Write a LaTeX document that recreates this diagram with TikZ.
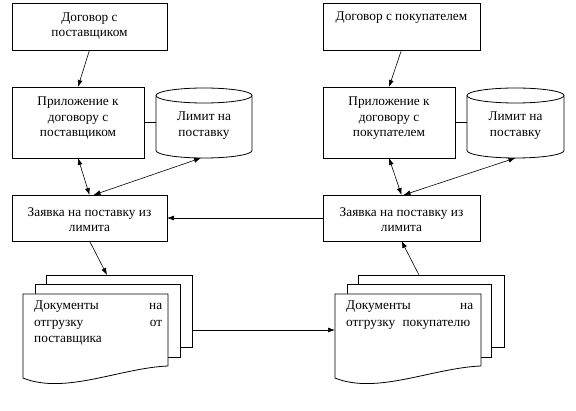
\documentclass[tikz,border=0pt]{standalone}
\usepackage{fontspec}
\setmainfont{Liberation Serif}
\usetikzlibrary{arrows.meta}
\newcommand\myfs{\fontsize{13.3}{15.5}\selectfont}
\newcommand\mydocfs{\fontsize{13.3}{16.2}\selectfont}
\begin{document}
\begin{tikzpicture}[x=1pt,y=-1pt,
  box/.style={draw, line width=0.8pt, fill=white, rectangle, inner sep=0pt, outer sep=0pt, anchor=north west},
  area/.style={rectangle, inner sep=0pt, outer sep=0pt, anchor=north west},
  txt/.style={inner sep=0pt, anchor=north, align=center, font=\myfs},
  doctxt/.style={inner sep=0pt, anchor=north west, align=left, font=\mydocfs},
  sheet/.style={line width=0.8pt, fill=white},
  tip/.style={Latex[length=7pt,width=5pt]},
  arr/.style={-{Latex[length=7pt,width=5pt]}, line width=0.6pt},
  darr/.style={{Latex[length=7pt,width=5pt]}-{Latex[length=7pt,width=5pt]}, line width=0.6pt},
  plain/.style={line width=0.8pt},
]
\useasboundingbox (0,0) rectangle (576,411);

% top boxes
\node[box, minimum width=155, minimum height=47] (d1) at (12,3) {};
\node[txt] (d1t) at ([yshift=-9.5]d1.north) {Договор с\\поставщиком};
\node[box, minimum width=157, minimum height=47] (d2) at (323,3) {};
\node[txt] (d2t) at ([yshift=-9]d2.north) {Договор с покупателем};

% appendix boxes
\node[box, minimum width=132, minimum height=71] (p1) at (12,87) {};
\node[txt] (p1t) at ([yshift=-10]p1.north) {Приложение к\\договору с\\поставщиком};
\node[box, minimum width=132, minimum height=71] (p2) at (323,87) {};
\node[txt] (p2t) at ([yshift=-10]p2.north) {Приложение к\\договору с\\покупателем};

% cylinders
\node[area, minimum width=96, minimum height=70] (c1) at (156,88) {};
\draw[plain, fill=white] (156,95.5) -- (156,150.5)
  arc[start angle=180, end angle=360, x radius=48pt, y radius=7.5pt] -- (252,95.5)
  arc[start angle=0, end angle=180, x radius=48pt, y radius=7.5pt] -- cycle;
\draw[plain] (156,95.5) arc[start angle=180, end angle=360, x radius=48pt, y radius=7.5pt];
\node[txt] (c1t) at ([yshift=-24]c1.north) {Лимит на\\поставку};

\node[area, minimum width=97, minimum height=70] (c2) at (467,88) {};
\draw[plain, fill=white] (467,95.5) -- (467,150.5)
  arc[start angle=180, end angle=360, x radius=48.5pt, y radius=7.5pt] -- (564,95.5)
  arc[start angle=0, end angle=180, x radius=48.5pt, y radius=7.5pt] -- cycle;
\draw[plain] (467,95.5) arc[start angle=180, end angle=360, x radius=48.5pt, y radius=7.5pt];
\node[txt] (c2t) at ([yshift=-24]c2.north) {Лимит на\\поставку};

% request boxes
\node[box, minimum width=155, minimum height=46] (z1) at (12,195) {};
\node[txt] (z1t) at ([yshift=-12]z1.north) {Заявка на поставку из\\лимита};
\node[box, minimum width=157, minimum height=46] (z2) at (323,195) {};
\node[txt] (z2t) at ([yshift=-12]z2.north) {Заявка на поставку из\\лимита};

% left documents
\node[box, minimum width=146, minimum height=72] (b1) at (46,275) {};
\node[box, minimum width=145, minimum height=73] (m1) at (35,284) {};
\node[area, minimum width=145, minimum height=72] (f1) at (23,294) {};
\draw[sheet] (23,294) -- (168,294) -- (168,366)
  .. controls (120,368) and (65,395) .. (23,378) -- cycle;
\node[doctxt] (f1t) at (34,301) {\hbox to 128pt{Документы\hfill на}\\\hbox to 128pt{отгрузку\hfill от}\\поставщика};

% right documents
\node[box, minimum width=146, minimum height=72] (b2) at (358,275) {};
\node[box, minimum width=144, minimum height=73] (m2) at (347,284) {};
\node[area, minimum width=146, minimum height=72] (f2) at (335,294) {};
\draw[sheet] (335,294) -- (481,294) -- (481,366)
  .. controls (432,368) and (377,395) .. (335,378) -- cycle;
\node[doctxt] (f2t) at (346,301) {\hbox to 127pt{Документы\hfill на}\\\hbox to 124pt{отгрузку\hfill покупателю}};

% connectors
\draw[plain] (p1.east) -- (c1.west |- p1.east);
\draw[plain] (p2.east) -- (c2.west |- p2.east);
\draw[arr] (d1.south) -- (p1.north);
\draw[arr] (d2.south) -- (p2.north);
\draw[darr] (p1.south) -- (z1.north);
\draw[darr] ([xshift=-3]c1.south) -- ([xshift=4]z1.north);
\draw[darr] (p2.south) -- (z2.north);
\draw[darr] (c2.south) -- ([xshift=2]z2.north);
\draw[arr] (z2.west) -- (z1.east);
\draw[arr] (z1.south) -- ([xshift=-12]b1.north);
\draw[arr] (b1.east |- f2.west) -- (f2.west);
\draw[arr] ([xshift=-12]b2.north) -- (z2.south);
\end{tikzpicture}
\end{document}
